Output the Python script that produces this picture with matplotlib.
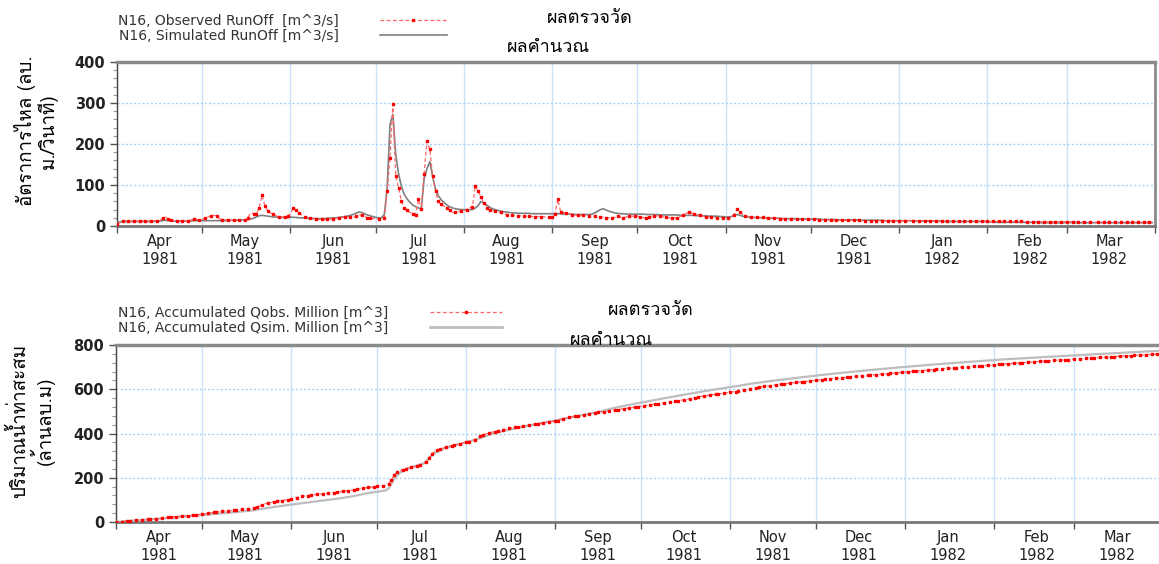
import numpy as np
import pandas as pd
import matplotlib
matplotlib.use("Agg")
import matplotlib.pyplot as plt
import matplotlib.dates as mdates
from matplotlib.lines import Line2D
from matplotlib import font_manager
from matplotlib.ft2font import FT2Font

# daily runoff, station N16, 1 Apr 1981 - 31 Mar 1982 (m^3/s)
obs_runoff = [
    5, 9, 12, 12, 12, 12, 12, 12, 12, 12, 12, 12, 13, 13, 13, 14, 19, 22, 17, 14, 13, 12, 12, 12, 12, 13, 15, 16, 16, 15,  # Apr
    16, 20, 22, 24, 26, 25, 18, 15, 15, 15, 14, 14, 14, 14, 14, 14, 20, 32, 30, 29, 45, 75, 50, 37, 32, 29, 25, 22, 22, 22, 24,  # May
    29, 45, 38, 32, 27, 23, 22, 20, 19, 17, 16, 16, 16, 16, 17, 18, 19, 20, 21, 22, 22, 21, 20, 24, 27, 27, 24, 20, 19, 18,  # Jun
    18, 18, 19, 20, 85, 167, 297, 122, 93, 61, 45, 38, 33, 30, 28, 65, 41, 128, 207, 187, 122, 85, 60, 53, 48, 45, 38, 33, 33, 34, 37,  # Jul
    37, 40, 45, 46, 98, 85, 70, 57, 45, 38, 37, 37, 35, 33, 30, 28, 27, 26, 25, 25, 25, 24, 24, 24, 23, 23, 23, 22, 22, 22, 22,  # Aug
    22, 30, 65, 35, 33, 32, 30, 28, 27, 27, 26, 26, 25, 25, 24, 24, 23, 23, 21, 20, 20, 20, 21, 24, 22, 20, 22, 24, 24, 24,  # Sep
    24, 22, 21, 19, 21, 23, 24, 25, 24, 22, 21, 20, 20, 20, 20, 23, 26, 30, 34, 32, 30, 28, 26, 24, 23, 22, 22, 21, 20, 20, 20,  # Oct
    20, 20, 20, 28, 41, 34, 29, 25, 23, 22, 21, 21, 21, 21, 21, 20, 20, 19, 19, 18, 18, 17, 17, 17, 17, 17, 17, 16, 16, 16,  # Nov
    16, 16, 16, 15, 15, 15, 15, 15, 15, 14, 14, 14, 14, 14, 14, 14, 14, 14, 13, 13, 13, 13, 13, 13, 13, 13, 13, 13, 13, 13, 13,  # Dec
    13, 13, 13, 13, 13, 13, 13, 13, 13, 13, 13, 13, 13, 12, 12, 12, 12, 12, 12, 12, 12, 12, 12, 12, 12, 12, 12, 12, 12, 12, 12,  # Jan
    11, 11, 11, 11, 11, 11, 11, 11, 11, 11, 11, 11, 11, 11, 10, 10, 10, 10, 10, 10, 10, 10, 10, 10, 10, 10, 10, 10,  # Feb
    10, 10, 10, 10, 10, 10, 10, 10, 9, 9, 9, 9, 9, 9, 9, 9, 9, 9, 9, 9, 9, 9, 9, 9, 9, 9, 9, 9, 9, 9, 9,  # Mar
]

sim_runoff = [
    8, 10, 11, 11, 11, 11, 11, 11, 11, 11, 11, 11, 11, 11, 11, 12, 13, 14, 13, 12, 12, 12, 12, 12, 12, 12, 12, 13, 13, 13,  # Apr
    13, 13, 13, 13, 13, 13, 13, 13, 13, 14, 14, 14, 14, 14, 15, 15, 16, 17, 19, 22, 25, 26, 25, 24, 23, 22, 22, 21, 21, 20, 20,  # May
    22, 21, 21, 20, 20, 19, 19, 18, 18, 18, 18, 18, 18, 19, 19, 20, 20, 21, 22, 23, 24, 26, 28, 31, 34, 33, 30, 27, 25, 23,  # Jun
    21, 20, 20, 28, 93, 248, 272, 175, 128, 97, 77, 66, 58, 51, 47, 44, 42, 115, 140, 157, 120, 90, 74, 64, 57, 51, 47, 44, 42, 41, 40,  # Jul
    40, 40, 40, 40, 44, 50, 60, 56, 51, 46, 42, 40, 38, 36, 35, 34, 33, 32, 32, 31, 31, 31, 31, 31, 30, 30, 30, 30, 30, 30, 30,  # Aug
    30, 30, 30, 30, 29, 29, 29, 29, 28, 28, 28, 28, 28, 28, 29, 32, 36, 40, 42, 39, 36, 34, 32, 31, 30, 30, 29, 29, 29, 29,  # Sep
    29, 29, 29, 28, 28, 28, 28, 28, 27, 27, 27, 27, 27, 27, 27, 26, 26, 26, 26, 26, 26, 25, 25, 25, 25, 24, 24, 24, 24, 23, 23,  # Oct
    22, 22, 23, 26, 28, 26, 24, 23, 22, 21, 21, 20, 20, 20, 20, 19, 19, 19, 19, 19, 18, 18, 18, 18, 18, 18, 17, 17, 17, 17,  # Nov
    17, 17, 17, 17, 16, 16, 16, 16, 16, 15, 15, 15, 15, 15, 15, 15, 15, 14, 14, 14, 14, 14, 14, 14, 14, 14, 13, 13, 13, 13, 13,  # Dec
    13, 13, 13, 13, 13, 13, 12, 12, 12, 12, 12, 12, 12, 12, 12, 12, 11, 11, 11, 11, 11, 11, 11, 11, 11, 11, 11, 11, 11, 11, 11,  # Jan
    10, 10, 10, 9, 9, 9, 9, 9, 9, 9, 9, 9, 9, 9, 9, 9, 9, 9, 9, 8, 8, 8, 8, 8, 8, 8, 8, 8,  # Feb
    9, 9, 8, 8, 8, 8, 8, 8, 8, 8, 8, 8, 8, 8, 8, 8, 8, 8, 8, 8, 8, 8, 8, 8, 8, 8, 8, 8, 8, 8, 8,  # Mar
]

start_date = "1981-04-01"
legend_top = ["N16, Observed RunOff  [m^3/s]", "N16, Simulated RunOff [m^3/s]"]
legend_bottom = ["N16, Accumulated Qobs. Million [m^3]", "N16, Accumulated Qsim. Million [m^3]"]
ylabel_top = "อัตราการไหล (ลบ.\nม./วินาที)"
ylabel_bottom = "ปริมาณน้ำท่าสะสม\n(ล้านลบ.ม)"
note_obs = "ผลตรวจวัด"
note_sim = "ผลคำนวณ"

dates = pd.date_range(start_date, periods=len(obs_runoff), freq="D")
obs = np.array(obs_runoff, dtype=float)
sim = np.array(sim_runoff, dtype=float)
# accumulated volume, million m^3
acc_obs = np.cumsum(obs) * 86400 / 1e6
acc_sim = np.cumsum(sim) * 86400 / 1e6

# find a font that has Thai glyphs
thai_font = "DejaVu Sans"
for f in font_manager.fontManager.ttflist:
    try:
        if 0x0E01 in FT2Font(f.fname).get_charmap() and "Bold" not in f.fname:
            thai_font = f.name
            break
    except Exception:
        pass
thai_family = [thai_font, "DejaVu Sans"]

W, H = 1159, 564
fig = plt.figure(figsize=(W / 100, H / 100), dpi=100)


def px_axes(left, right, top, bottom):
    return fig.add_axes([left / W, 1 - bottom / H, (right - left) / W, (bottom - top) / H])


ax1 = px_axes(117, 1155, 62, 226)
ax2 = px_axes(116, 1163, 345, 522)

grid_blue = "#c9e2fb"
x0 = pd.Timestamp("1981-04-01")
x1 = pd.Timestamp("1982-04-01")

for ax, ymax, ymaj, ymin in [(ax1, 400, 100, 20), (ax2, 800, 200, 40)]:
    ax.set_xlim(x0, x1)
    ax.set_ylim(0, ymax)
    ax.xaxis.set_major_locator(mdates.MonthLocator())
    ax.xaxis.set_major_formatter(plt.NullFormatter())
    ax.xaxis.set_minor_locator(mdates.MonthLocator(bymonthday=16))
    ax.xaxis.set_minor_formatter(mdates.DateFormatter("%b\n%Y"))
    ax.yaxis.set_major_locator(plt.MultipleLocator(ymaj))
    ax.yaxis.set_minor_locator(plt.MultipleLocator(ymin))
    ax.tick_params(axis="x", which="major", length=5, width=1, color="#555555", direction="out")
    ax.tick_params(axis="x", which="minor", length=0, pad=6, labelsize=10.5, labelcolor="#222222")
    ax.tick_params(axis="y", which="major", length=5, width=1, color="#555555", labelsize=10.5,
                   labelcolor="#222222")
    ax.tick_params(axis="y", which="minor", length=3, width=0.8, color="#999999")
    for lbl in ax.get_yticklabels():
        lbl.set_fontweight("bold")
    ax.grid(True, axis="x", which="major", color=grid_blue, lw=1.0, ls="-")
    ax.grid(True, axis="y", which="major", color="#a9d0f5", lw=1.0, ls=(0, (1.5, 1.5)))
    ax.set_axisbelow(True)
    ax.spines["top"].set_color("#8a8a8a")
    ax.spines["top"].set_linewidth(2.5)
    ax.spines["right"].set_color("#8a8a8a")
    ax.spines["right"].set_linewidth(2.0)
    ax.spines["left"].set_color("#444444")
    ax.spines["left"].set_linewidth(1.0)
    ax.spines["bottom"].set_color("#777777")
    ax.spines["bottom"].set_linewidth(2.0)

obs_style = dict(color="#ff6666", lw=0.9, ls=(0, (3, 2)), marker="s", ms=2.0,
                 mfc="#ff0000", mec="#ff0000")

# top: daily runoff
ax1.plot(dates, sim, color="#808080", lw=1.2, zorder=3)
ax1.plot(dates, obs, markevery=0.0055, zorder=4, **obs_style)

# bottom: accumulated volume
ax2.plot(dates, acc_sim, color="#bdbdbd", lw=1.6, zorder=3)
ax2.plot(dates, acc_obs, markevery=0.0048, zorder=4, **obs_style)

ax1.set_ylabel(ylabel_top, family=thai_family, fontsize=13.5, multialignment="center", linespacing=1.05)
ax1.yaxis.set_label_coords(-0.057, 0.58)
ax2.set_ylabel(ylabel_bottom, family=thai_family, fontsize=13.5, multialignment="center", linespacing=1.05)
ax2.yaxis.set_label_coords(-0.058, 0.57)

# legends (text first, sample line on the right)
h_obs = Line2D([], [], markevery=[1, 3], **obs_style)
h_sim = Line2D([], [], color="#808080", lw=1.2)
h_sim2 = Line2D([], [], color="#bdbdbd", lw=2.0)

fig.legend([h_obs, h_sim], legend_top, loc="upper left", bbox_to_anchor=(108 / W, 1 - 4 / H),
           frameon=False, markerfirst=False, handlelength=4.8, fontsize=10, labelspacing=0.1,
           handletextpad=3.0, labelcolor="#333333", borderpad=0.2)
fig.legend([h_obs, h_sim2], legend_bottom, loc="upper left", bbox_to_anchor=(108 / W, 1 - 296 / H),
           frameon=False, markerfirst=False, handlelength=5.2, fontsize=10, labelspacing=0.1,
           handletextpad=3.0, labelcolor="#333333", borderpad=0.2)

# Thai notes
fig.text(590 / W, 1 - 18 / H, note_obs, family=thai_family, fontsize=13, ha="center", va="center")
fig.text(548 / W, 1 - 47 / H, note_sim, family=thai_family, fontsize=13, ha="center", va="center")
fig.text(651 / W, 1 - 310 / H, note_obs, family=thai_family, fontsize=13, ha="center", va="center")
fig.text(611 / W, 1 - 340 / H, note_sim, family=thai_family, fontsize=13, ha="center", va="center")

fig.savefig("out.png", dpi=100, facecolor="white")
